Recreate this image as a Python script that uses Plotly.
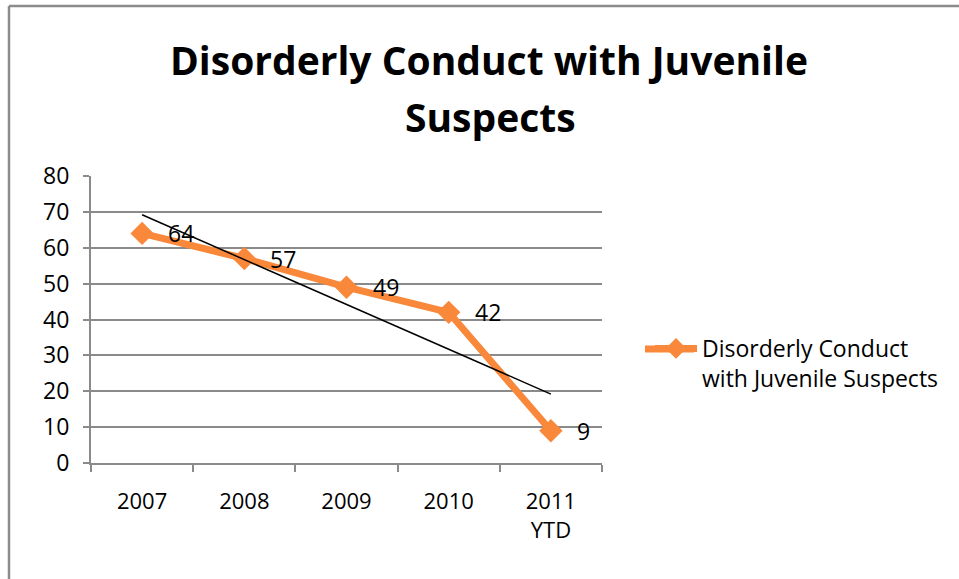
import numpy as np
import plotly.graph_objects as go

categories = ["2007", "2008", "2009", "2010", "2011<br>YTD"]
values = [64, 57, 49, 42, 9]
series_name = "Disorderly Conduct<br>with Juvenile Suspects"
title_lines = ["Disorderly Conduct with Juvenile", "Suspects"]
y_ticks = [0, 10, 20, 30, 40, 50, 60, 70, 80]

ORANGE = "#F9883A"
GRID = "#8a8a8a"
FONT = "Open Sans"

# linear trendline (least squares fit of the series, as Excel draws it)
idx = np.arange(len(values))
slope, intercept = np.polyfit(idx, values, 1)
trend_y = [float(intercept), float(intercept + slope * idx[-1])]

W, H = 959, 579
L, R, T, B = 91, 602, 176, 463
def px(x):
    return (x - L) / (R - L)
def py(y):
    return (B - y) / (B - T)

fig = go.Figure()
fig.add_trace(go.Scatter(
    x=categories, y=values, name=series_name, mode="lines+markers",
    line=dict(color=ORANGE, width=7),
    marker=dict(symbol="diamond", size=18, color=ORANGE),
    cliponaxis=False,
))
fig.add_trace(go.Scatter(
    x=[categories[0], categories[-1]], y=trend_y, mode="lines",
    line=dict(color="black", width=1.5), showlegend=False, hoverinfo="skip",
))

annotations = []
for i, v in enumerate(values):
    annotations.append(dict(x=i, y=v, xref="x", yref="y", text=str(v),
                            showarrow=False, xanchor="left", yanchor="middle",
                            xshift=24, font=dict(family=FONT, size=23, color="black")))
annotations.append(dict(x=px(489), y=py(59), xref="paper", yref="paper", text="<b>%s</b>" % title_lines[0],
                        showarrow=False, xanchor="center", yanchor="middle",
                        font=dict(family=FONT, size=39, color="black")))
annotations.append(dict(x=px(490), y=py(117), xref="paper", yref="paper", text="<b>%s</b>" % title_lines[1],
                        showarrow=False, xanchor="center", yanchor="middle",
                        font=dict(family=FONT, size=39, color="black")))

shapes = [
    dict(type="line", xref="paper", yref="paper", x0=px(9), x1=px(975), y0=py(6), y1=py(6),
         line=dict(color="#8c8c8c", width=2.5)),
    dict(type="line", xref="paper", yref="paper", x0=px(9), x1=px(9), y0=py(6), y1=py(595),
         line=dict(color="#8c8c8c", width=2.5)),
    # extended legend key line (Excel draws a longer key than plotly)
    dict(type="line", xref="paper", yref="paper", x0=px(645), x1=px(694), y0=py(349), y1=py(349),
         line=dict(color=ORANGE, width=7)),
]

fig.update_layout(
    width=W, height=H,
    margin=dict(l=L, r=W - R, t=T, b=H - B),
    paper_bgcolor="white", plot_bgcolor="white",
    font=dict(family=FONT, size=23, color="black"),
    annotations=annotations, shapes=shapes,
    showlegend=True,
    legend=dict(x=px(650), y=py(327), xanchor="left", yanchor="top",
                valign="top", itemwidth=42, font=dict(family=FONT, size=23, color="black"),
                bgcolor="rgba(0,0,0,0)", tracegroupgap=0),
    xaxis=dict(type="category", range=[-0.5, 4.5], showgrid=False, showline=True, linecolor=GRID, linewidth=2,
               ticks="outside", tickson="boundaries", ticklen=7, tickcolor=GRID, tickwidth=2,
               ticklabelstandoff=18, tickangle=0, tickfont=dict(family=FONT, size=22, color="black"),
               zeroline=False),
    yaxis=dict(range=[0, 80], tickvals=y_ticks, showgrid=True, gridcolor=GRID, gridwidth=2,
               showline=True, linecolor=GRID, linewidth=2, ticks="outside", ticklen=6,
               tickcolor=GRID, tickwidth=2, ticklabelstandoff=9,
               tickfont=dict(family=FONT, size=23, color="black"), zeroline=False),
)

fig.write_html("out.html", config={"displayModeBar": False},
               post_script="document.body.style.margin='0px';")
